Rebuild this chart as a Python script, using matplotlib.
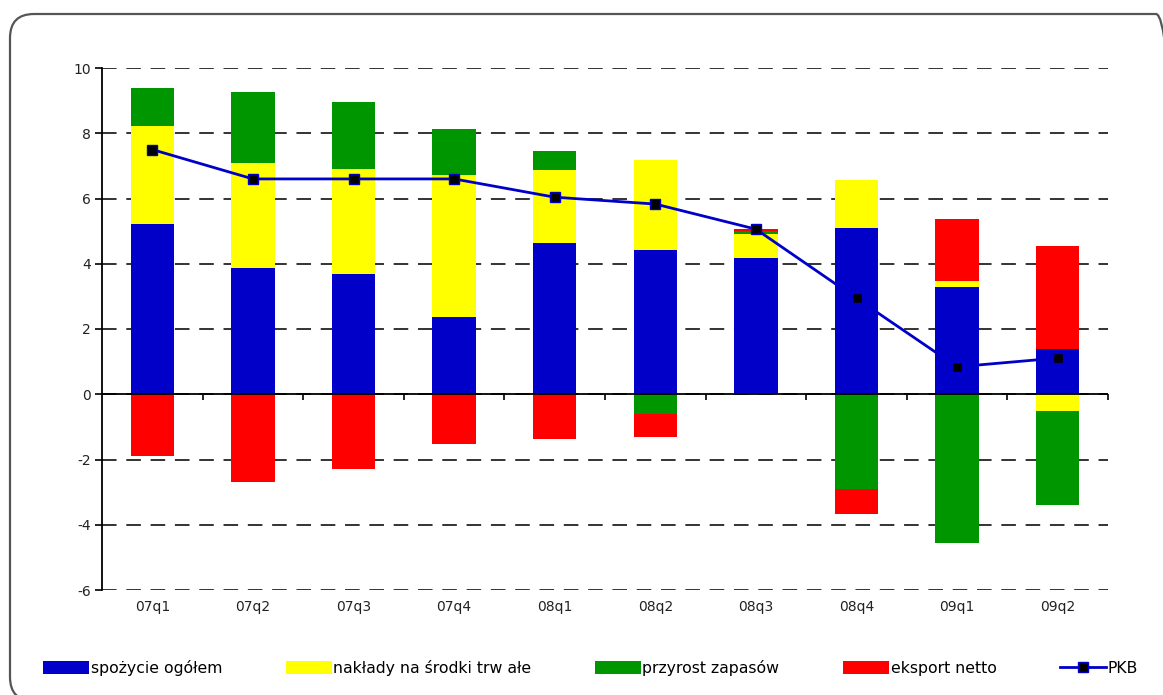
import numpy as np
import matplotlib.pyplot as plt
from matplotlib.patches import FancyBboxPatch, Patch
from matplotlib.lines import Line2D
from matplotlib.transforms import IdentityTransform, blended_transform_factory

# dane (punkty procentowe)
kwartaly = ['07q1', '07q2', '07q3', '07q4', '08q1', '08q2', '08q3', '08q4', '09q1', '09q2']
spozycie = [5.21, 3.86, 3.68, 2.36, 4.63, 4.42, 4.17, 5.09, 3.29, 1.38]
naklady = [3.01, 3.22, 3.22, 4.36, 2.24, 2.76, 0.74, 1.47, 0.18, -0.52]
zapasy = [1.17, 2.18, 2.06, 1.41, 0.58, -0.61, 0.08, -2.91, -4.55, -2.88]
eksport = [-1.90, -2.70, -2.30, -1.53, -1.38, -0.71, 0.06, -0.77, 1.90, 3.17]
pkb = [7.50, 6.60, 6.60, 6.60, 6.04, 5.83, 5.06, 2.94, 0.84, 1.11]

nazwy = ['spożycie ogółem', 'nakłady na środki trw ałe', 'przyrost zapasów', 'eksport netto']
kolory = ['#0000c8', '#ffff00', '#009600', '#ff0000']
y_ticks = [-6, -4, -2, 0, 2, 4, 6, 8, 10]

plt.rcParams['font.family'] = ['DejaVu Sans']

fig = plt.figure(figsize=(11.63, 6.95), dpi=100)
ax = fig.add_axes([102/1163, 1-590/695, 1006/1163, 522/695])

x = np.arange(len(kwartaly))
pos_base = np.zeros(len(x))
neg_base = np.zeros(len(x))
for seria, kol in zip([spozycie, naklady, zapasy, eksport], kolory):
    v = np.array(seria)
    dod = np.where(v > 0, v, 0)
    uj = np.where(v < 0, v, 0)
    ax.bar(x, dod, 0.43, bottom=pos_base, color=kol, zorder=3)
    ax.bar(x, uj, 0.43, bottom=neg_base, color=kol, zorder=3)
    pos_base += dod
    neg_base += uj

ax.plot(x, pkb, color='#0000c8', lw=2, marker='s', ms=6.5, mfc='black',
        mec='#0000c8', mew=1, zorder=5)

ax.set_xlim(-0.5, len(x) - 0.5)
ax.set_ylim(-6, 10)
ax.set_yticks(y_ticks)
ax.set_yticklabels([str(t) for t in y_ticks], fontsize=10, color='#222222')
ax.yaxis.grid(True, color='#333333', lw=1.4, linestyle=(0, (7.5, 5)), zorder=1)
ax.axhline(0, color='black', lw=1.3, zorder=4)

for s in ['top', 'right']:
    ax.spines[s].set_visible(False)
ax.spines['left'].set_linewidth(1.3)
ax.spines['bottom'].set_position(('data', 0))
ax.spines['bottom'].set_visible(False)
ax.set_xticks(np.arange(0.5, len(x), 1))
ax.set_xticklabels([])
ax.tick_params(axis='x', direction='out', length=4, width=1.2, color='black')
ax.tick_params(axis='y', direction='out', length=5, width=1.2, pad=3)

tr = blended_transform_factory(ax.transData, ax.transAxes)
for i, k in enumerate(kwartaly):
    ax.text(i, -0.033, k, transform=tr, ha='center', va='center',
            fontsize=10, color='#222222')

uchwyty = [Patch(facecolor=c, edgecolor='none') for c in kolory]
uchwyty.append(Line2D([], [], color='#0000c8', lw=2, marker='s', ms=7,
                      mfc='black', mec='#0000c8'))
fig.legend(uchwyty, nazwy + ['PKB'], loc='center left',
           bbox_to_anchor=(43/1163, 1-668/695), ncol=5, frameon=False,
           fontsize=11.3, handlelength=2.95, handleheight=0.85,
           handletextpad=0.08, columnspacing=4.05, borderpad=0, borderaxespad=0)

ramka = FancyBboxPatch((10, -6), 1170, 687, boxstyle='round,pad=0,rounding_size=24',
                       transform=IdentityTransform(), facecolor='none',
                       edgecolor='#555555', lw=1.6)
fig.patches.append(ramka)

fig.savefig('out.png', dpi=100)
